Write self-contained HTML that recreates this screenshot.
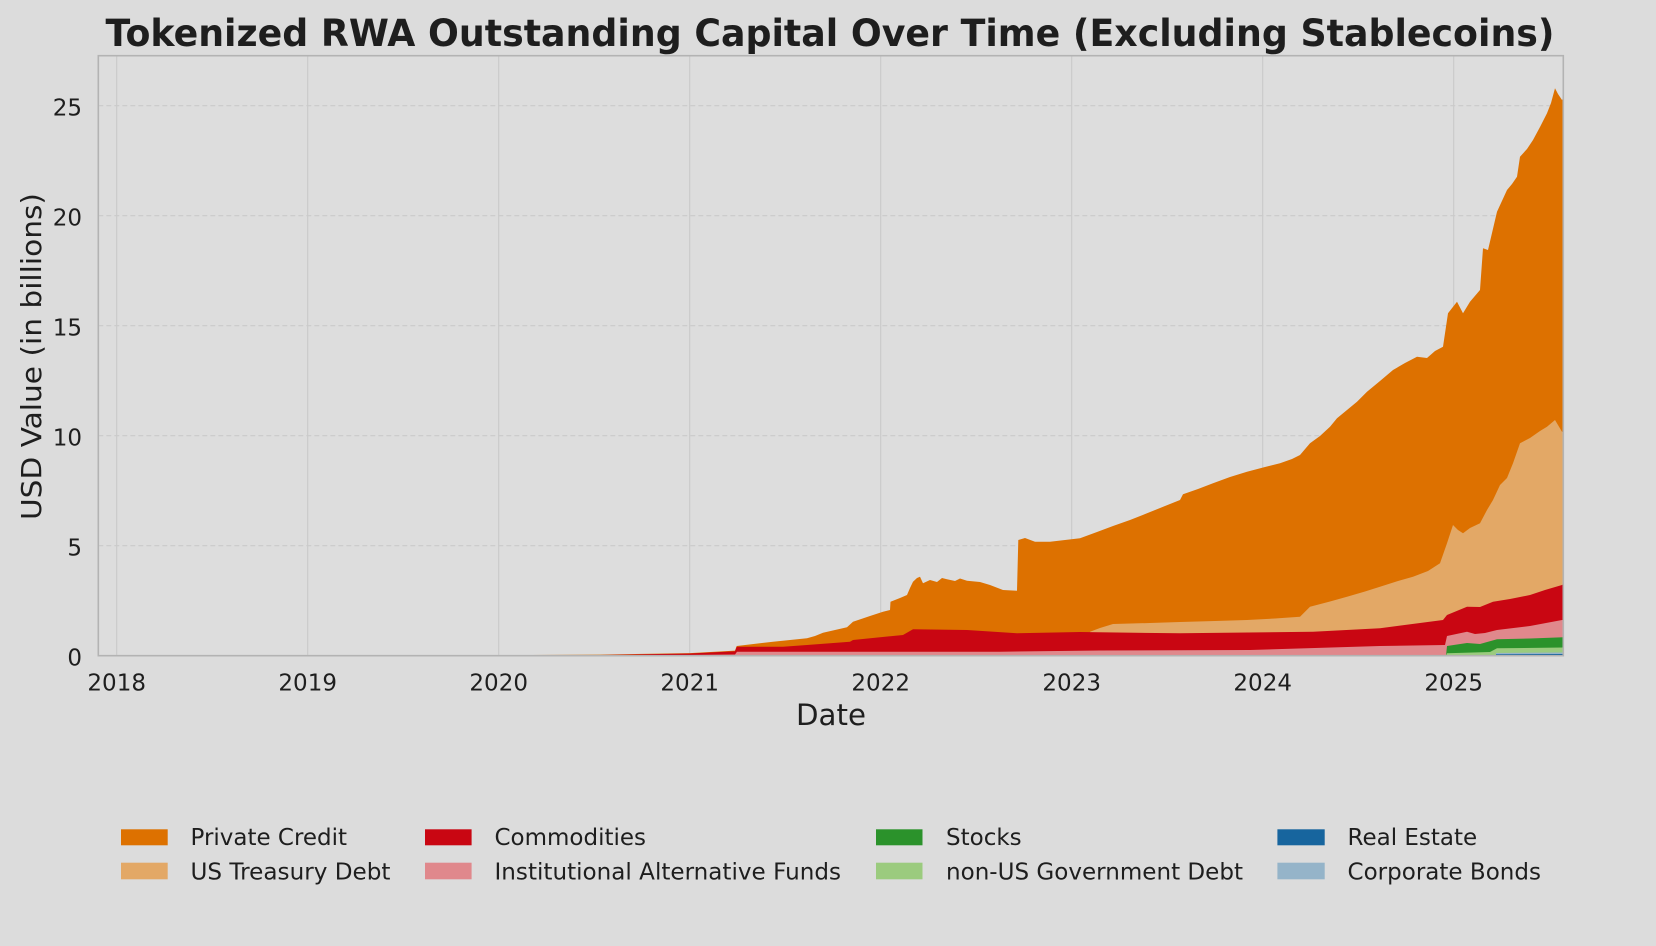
<!DOCTYPE html>
<html>
<head>
<meta charset="utf-8">
<style>
  html,body{margin:0;padding:0;background:#dcdcdc;}
  svg{display:block;}
  text{font-family:"DejaVu Sans","Liberation Sans",sans-serif;fill:#1e1e1e;}
</style>
</head>
<body>
<svg width="1656" height="946" viewBox="0 0 1656 946" xmlns="http://www.w3.org/2000/svg">
  <rect x="0" y="0" width="1656" height="946" fill="#dcdcdc"/>
  <!-- plot area -->
  <rect x="98.3" y="55.7" width="1465" height="600" fill="#dddddd"/>

  <!-- grid -->
  <g stroke="#cbcbcb" stroke-width="1.2">
    <line x1="116.7" y1="55.7" x2="116.7" y2="655.7"/>
    <line x1="307.7" y1="55.7" x2="307.7" y2="655.7"/>
    <line x1="498.7" y1="55.7" x2="498.7" y2="655.7"/>
    <line x1="689.7" y1="55.7" x2="689.7" y2="655.7"/>
    <line x1="880.7" y1="55.7" x2="880.7" y2="655.7"/>
    <line x1="1071.7" y1="55.7" x2="1071.7" y2="655.7"/>
    <line x1="1262.7" y1="55.7" x2="1262.7" y2="655.7"/>
    <line x1="1453.7" y1="55.7" x2="1453.7" y2="655.7"/>
  </g>
  <g stroke="#cacaca" stroke-width="1.2" stroke-dasharray="5,3">
    <line x1="98.3" y1="545.7" x2="1563.3" y2="545.7"/>
    <line x1="98.3" y1="435.7" x2="1563.3" y2="435.7"/>
    <line x1="98.3" y1="325.7" x2="1563.3" y2="325.7"/>
    <line x1="98.3" y1="215.7" x2="1563.3" y2="215.7"/>
    <line x1="98.3" y1="105.7" x2="1563.3" y2="105.7"/>
  </g>

  <!-- Private Credit (total top) -->
  <polygon fill="#dd7100" points="470,655.3 600,654.6 690,653.1 735,650.6 736.7,646 773,641.7 807,638.3 815,636 823,632.7 847,627.3 853,621.7 870,616 883,611.7 890,610 890.5,601.7 900,598 907,595 910,588 913,581.7 917,578 920,576.7 923,583.3 930,580 937,582 942,578 947,579.3 955,581 960,578.5 967,580.7 980,582 990,585 1003,590 1017,590.7 1018.3,540 1025,538 1035,541.7 1050,541.7 1065,540 1080,538.3 1097,532 1113,526 1130,520 1147,513.3 1165,506 1180,500 1183,494.3 1198,489 1213,483.3 1230,477 1247,471.7 1265,467 1280,463.3 1292,459 1300,455 1310,443.3 1320,436 1330,426.7 1337,418.3 1347,410 1357,401.7 1367,391.7 1380,381 1393,370 1405,363 1417,356.7 1427,358 1435,351 1443,346.7 1448,313.3 1457,301.7 1463,313.3 1470,301.7 1480,290 1483,248.3 1488,250 1497,211.7 1507,190 1512,184 1517,176.7 1520,156.7 1527,149 1533,140 1540,127 1547,113.3 1551,103 1555,88.3 1558,94 1562,100 1563.3,98 1563.3,655.7 470,655.7"/>

  <!-- US Treasury Debt -->
  <polygon fill="#e3a866" points="1090,631.7 1100,628 1113,624 1150,623 1180,622 1215,621 1247,620 1275,618.5 1300,616.7 1310,606.7 1330,601.5 1347,596.7 1365,591.5 1380,586.7 1398,581 1413,576.7 1428,571 1440,563.3 1447,543.3 1453,525 1458,530 1463,533.3 1470,528 1480,523.3 1487,510 1493,500 1500,485 1507,478 1513,463.3 1520,443.3 1530,438 1540,431 1547,426.7 1555,420 1562,431.7 1563.3,432 1563.3,655.7 1090,655.7"/>

  <!-- Commodities -->
  <polygon fill="#c90612" points="470,655.5 600,655 690,653.5 735,651.3 736.7,646.7 783,646.7 807,645 850,641.7 853,640 903,635 913,629.3 967,630 1017,633.3 1080,632 1180,633.3 1313,631.7 1380,628.3 1443,620 1447,615 1467,606.7 1480,607 1493,601.7 1510,599 1530,595 1545,590 1562,585 1563.3,584 1563.3,655.7 470,655.7"/>

  <!-- Institutional Alternative Funds -->
  <polygon fill="#e0888c" points="470,655.7 690,655 735,654.5 737,651.7 1000,651.7 1100,650.5 1250,650 1380,646 1445,645 1447,636 1467,631.7 1475,634 1485,633 1497,630 1530,626 1562,620 1563.3,620 1563.3,655.7 470,655.7"/>

  <!-- Stocks -->
  <polygon fill="#2b922b" points="1446,655.7 1447,646 1467,643 1480,644 1497,639.3 1530,638.5 1563.3,637.3 1563.3,655.7"/>

  <!-- non-US Government Debt -->
  <polygon fill="#9bcb7e" points="1446,655.7 1447,653.3 1490,652 1497,648.3 1563.3,647.5 1563.3,655.7"/>

  <!-- Corporate Bonds / Real Estate -->
  <polygon fill="#95b4c9" points="1496,655.7 1496,653 1563.3,652.5 1563.3,655.7"/>
  <polygon fill="#17659e" points="1496,655.7 1496,654.3 1563.3,654 1563.3,655.7"/>

  <!-- axes border -->
  <rect x="98.3" y="55.7" width="1465" height="600" fill="none" stroke="#b3b3b3" stroke-width="1.6"/>

  <!-- title -->
  <text x="830" y="46" text-anchor="middle" font-size="37" font-weight="bold" fill="#111" textLength="1449" lengthAdjust="spacingAndGlyphs">Tokenized RWA Outstanding Capital Over Time (Excluding Stablecoins)</text>

  <!-- y ticks -->
  <g font-size="23" text-anchor="end">
    <text x="82" y="665.5">0</text>
    <text x="82" y="555.5">5</text>
    <text x="82" y="445.5">10</text>
    <text x="82" y="335.5">15</text>
    <text x="82" y="225.5">20</text>
    <text x="82" y="115.5">25</text>
  </g>

  <!-- x ticks -->
  <g font-size="23" text-anchor="middle">
    <text x="116.7" y="690.5">2018</text>
    <text x="307.7" y="690.5">2019</text>
    <text x="498.7" y="690.5">2020</text>
    <text x="689.7" y="690.5">2021</text>
    <text x="880.7" y="690.5">2022</text>
    <text x="1071.7" y="690.5">2023</text>
    <text x="1262.7" y="690.5">2024</text>
    <text x="1453.7" y="690.5">2025</text>
  </g>

  <!-- axis labels -->
  <text x="831" y="725" text-anchor="middle" font-size="29" textLength="70" lengthAdjust="spacingAndGlyphs">Date</text>
  <text transform="translate(41,356.5) rotate(-90)" x="0" y="0" text-anchor="middle" font-size="28" textLength="327" lengthAdjust="spacingAndGlyphs">USD Value (in billions)</text>

  <!-- legend -->
  <g>
    <rect x="121" y="829.3" width="46.7" height="16" fill="#dd7100"/>
    <rect x="121" y="862.7" width="46.7" height="16.6" fill="#e3a866"/>
    <rect x="425" y="829.3" width="46.6" height="16" fill="#c90612"/>
    <rect x="425" y="862.7" width="46.6" height="16.6" fill="#e0888c"/>
    <rect x="876" y="829.3" width="46.5" height="16" fill="#2b922b"/>
    <rect x="876" y="862.7" width="46.5" height="16.6" fill="#9bcb7e"/>
    <rect x="1277.4" y="829.3" width="47.3" height="16" fill="#17659e"/>
    <rect x="1277.4" y="862.7" width="47.3" height="16.6" fill="#95b4c9"/>
  </g>
  <g font-size="23">
    <text x="190.5" y="845" textLength="156.5" lengthAdjust="spacingAndGlyphs">Private Credit</text>
    <text x="190.5" y="879.3" textLength="200" lengthAdjust="spacingAndGlyphs">US Treasury Debt</text>
    <text x="494.5" y="845" textLength="151.5" lengthAdjust="spacingAndGlyphs">Commodities</text>
    <text x="494.5" y="879.3" textLength="346.5" lengthAdjust="spacingAndGlyphs">Institutional Alternative Funds</text>
    <text x="946" y="845">Stocks</text>
    <text x="946" y="879.3" textLength="297" lengthAdjust="spacingAndGlyphs">non-US Government Debt</text>
    <text x="1347.5" y="845">Real Estate</text>
    <text x="1347.5" y="879.3" textLength="193.5" lengthAdjust="spacingAndGlyphs">Corporate Bonds</text>
  </g>
</svg>
</body>
</html>
